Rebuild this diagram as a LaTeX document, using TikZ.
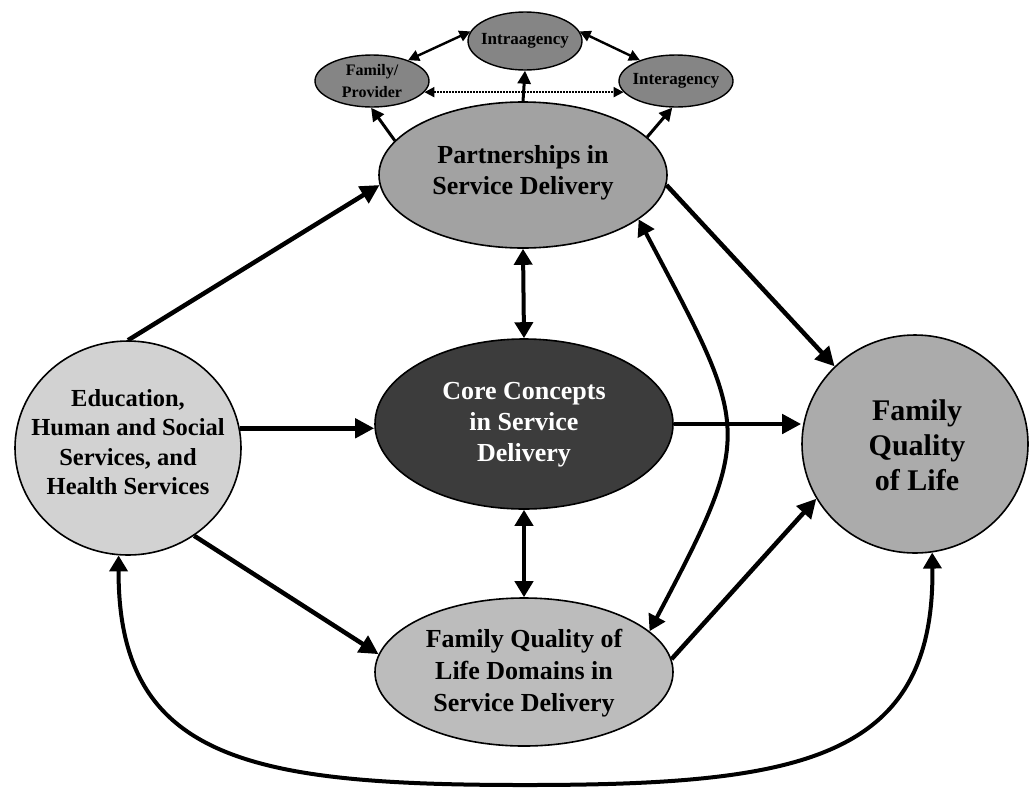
\documentclass[tikz,border=0pt]{standalone}
\usepackage{fontspec}
\setmainfont{Liberation Serif}
\usetikzlibrary{arrows.meta,shapes.geometric}

\definecolor{edufill}{HTML}{D2D2D2}
\definecolor{partfill}{HTML}{A2A2A2}
\definecolor{corefill}{HTML}{3C3C3C}
\definecolor{fqolfill}{HTML}{ABABAB}
\definecolor{domfill}{HTML}{BCBCBC}
\definecolor{smallfill}{HTML}{858585}

\tikzset{
  blob/.style={ellipse, draw=black, line width=1.6pt, inner sep=0pt},
  smallblob/.style={blob, fill=smallfill, line width=1.4pt},
  caption/.style={align=center, inner sep=0pt, font=\bfseries},
  bigarrow/.style={line width=4.5pt, -{Triangle[length=19pt,width=19pt]}},
  bigboth/.style={line width=4pt, {Triangle[length=16pt,width=18pt]}-{Triangle[length=16pt,width=18pt]}},
  smallarrow/.style={line width=3pt, -{Triangle[length=13pt,width=13pt]}},
  smallboth/.style={line width=2.4pt, {Triangle[length=11pt,width=11pt]}-{Triangle[length=11pt,width=11pt]}},
  dotboth/.style={line width=2pt, densely dotted, {Triangle[length=10pt,width=10pt]}-{Triangle[length=10pt,width=10pt]}}
}

\begin{document}
\begin{tikzpicture}[x=1pt,y=-1pt]
  \fill[white] (0,0) rectangle (1032,788);
  \useasboundingbox (0,0) rectangle (1032,788);

  % main shapes
  \node[blob, fill=edufill, minimum width=226pt, minimum height=214pt] (edu) at (128,448) {};
  \node[blob, fill=partfill, minimum width=288pt, minimum height=146pt] (part) at (523,175) {};
  \node[blob, fill=corefill, minimum width=298pt, minimum height=170pt] (core) at (524,424) {};
  \node[blob, fill=domfill, minimum width=298pt, minimum height=148pt] (dom) at (524,672) {};
  \node[blob, fill=fqolfill, minimum width=226pt, minimum height=218pt] (fqol) at (915,444) {};

  % partnership sub-shapes
  \node[smallblob, minimum width=114pt, minimum height=58pt] (intra) at (525,41) {};
  \node[smallblob, minimum width=114pt, minimum height=52pt] (fp) at (372,81) {};
  \node[smallblob, minimum width=114pt, minimum height=52pt] (inter) at (676,81) {};

  % captions
  \node[caption, font=\bfseries\fontsize{24.5}{29.5}\selectfont] (edu-t) at (128,442)
        {Education,\\Human and Social\\Services, and\\Health Services};
  \node[caption, font=\bfseries\fontsize{26}{31}\selectfont] (part-t) at (523,173)
        {Partnerships in\\Service Delivery};
  \node[caption, text=white, font=\bfseries\fontsize{26}{31}\selectfont] (core-t) at (524,425)
        {Core Concepts\\in Service\\Delivery};
  \node[caption, font=\bfseries\fontsize{26}{32}\selectfont] (dom-t) at (524,673)
        {Family Quality of\\Life Domains in\\Service Delivery};
  \node[caption, font=\bfseries\fontsize{30}{35}\selectfont] (fqol-t) at (917,445)
        {Family\\Quality\\of Life};
  \node[caption, font=\bfseries\fontsize{17}{20}\selectfont] (intra-t) at (525,41) {Intraagency};
  \node[caption, font=\bfseries\fontsize{16}{22}\selectfont] (fp-t) at (372,81) {Family/\\Provider};
  \node[caption, font=\bfseries\fontsize{17}{20}\selectfont] (inter-t) at (676,81) {Interagency};

  % one-way links
  \draw[bigarrow] (edu.north) -- (part.184);
  \draw[bigarrow] (edu.10) -- (edu.10 -| core.west);
  \draw[bigarrow] (edu.-53) -- (dom.173);
  \draw[bigarrow] (core.east) -- (core.east -| fqol.west);
  \draw[bigarrow] (part.-4) -- (fqol.136);
  \draw[bigarrow] (dom.5) -- (fqol.209);

  % two-way links
  \draw[bigboth] (part.south) -- (core.north);
  \draw[bigboth] (core.south) -- (dom.north);
  \draw[bigboth] (part.-21) .. controls (750,430) and (756,430) .. (dom.18);
  \draw[bigboth] (edu.-95) .. controls (118,760) and (250,785) .. (525,785)
                 .. controls (800,785) and (935,760) .. (fqol.-81);

  % partnership types
  \draw[smallarrow] (part.165) -- (fp.-92);
  \draw[smallarrow] (part.north) -- (intra.south);
  \draw[smallarrow] (part.17) -- (inter.-98);
  \draw[smallboth] (fp.30) -- (intra.170);
  \draw[smallboth] (intra.10) -- (inter.150);
  \draw[dotboth] (fp.-12) -- (inter.192);
\end{tikzpicture}
\end{document}
